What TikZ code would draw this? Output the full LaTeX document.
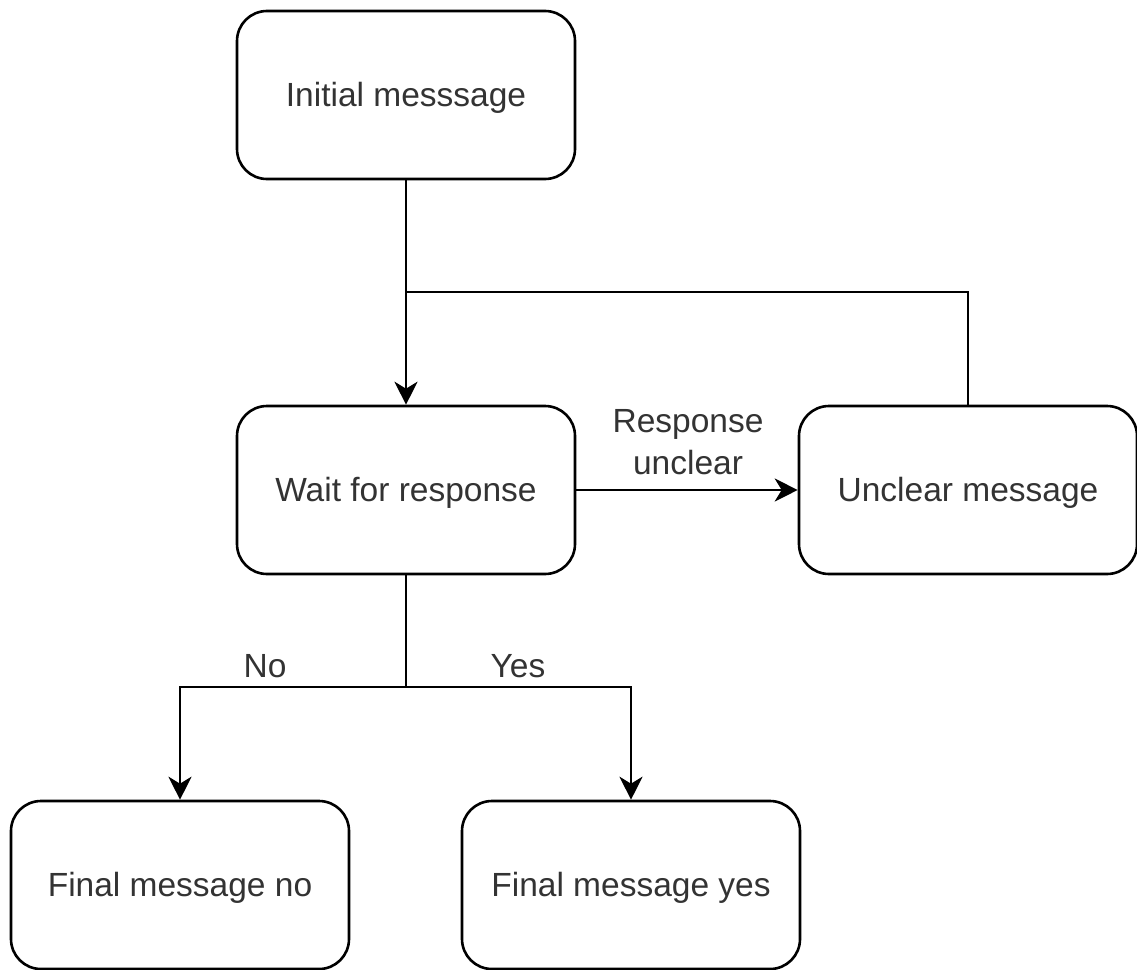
\documentclass[tikz,border=0pt]{standalone}
\usepackage{fontspec}
\setmainfont{Liberation Sans}
\usetikzlibrary{arrows.meta}
\definecolor{txt}{HTML}{333333}
% lower the text ink a little without changing the box dimensions
\newcommand{\boxtext}[1]{\raisebox{-3pt}[\height][\depth]{#1}}
\tikzset{
  box/.style={draw=black, line width=2.6pt, rounded corners=30pt,
    minimum width=338pt, minimum height=168pt, fill=white,
    text=txt, font=\fontsize{33.5}{42}\selectfont, align=center},
  link/.style={draw=black, line width=2.6pt},
  arr/.style={link, -{Stealth[length=23pt, width=23pt, inset=7pt]}},
  lbl/.style={text=txt, font=\fontsize{33.5}{42}\selectfont, align=center}
}
\begin{document}
\begin{tikzpicture}[x=1pt, y=-1pt]
  \useasboundingbox (0,0) rectangle (1137,969);
  \node[box] (init)    at (406,95)  {\boxtext{Initial messsage}};
  \node[box] (wait)    at (406,490) {\boxtext{Wait for response}};
  \node[box] (unclear) at (968,490) {\boxtext{Unclear message}};
  \node[box] (no)      at (180,885) {\boxtext{Final message no}};
  \node[box] (yes)     at (631,885) {\boxtext{Final message yes}};

  \coordinate (join)  at (406,292);
  \coordinate (split) at (406,687);

  % initial message and retry loop both lead into the wait state
  \draw[arr] (init.south) -- (wait.north);
  \draw[link] (unclear.north) |- (join);

  \draw[arr] (wait.east) -- (unclear.west);
  \node[lbl] (unclearlbl) at (688,442) {Response\\unclear};

  % yes / no branches
  \draw[link] (wait.south) -- (split);
  \draw[arr] (split) -| (no.north);
  \draw[arr] (split) -| (yes.north);
  \node[lbl] (nolbl)  at (265,666) {No};
  \node[lbl] (yeslbl) at (518,666) {Yes};
\end{tikzpicture}
\end{document}
